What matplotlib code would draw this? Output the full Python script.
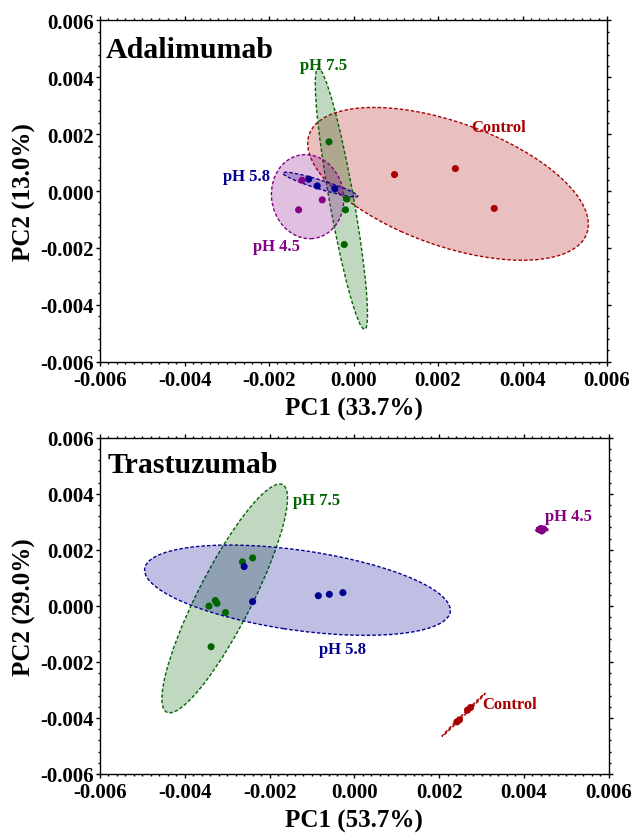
import matplotlib
matplotlib.use('Agg')
import matplotlib.pyplot as plt
from matplotlib.patches import Ellipse
from matplotlib.ticker import MultipleLocator
from matplotlib.colors import to_rgba
import numpy as np

# ---- data (PC scores) ----
tick_vals = [-0.006, -0.004, -0.002, 0.0, 0.002, 0.004, 0.006]
tick_text = ['-0.006', '-0.004', '-0.002', '0.000', '0.002', '0.004', '0.006']

groups = ['Control', 'pH 7.5', 'pH 5.8', 'pH 4.5']
group_colors = ['#a80000', '#006400', '#000090', '#850085']

# Adalimumab
adal_control_pc1 = [0.97e-3, 2.41e-3, 3.33e-3]
adal_control_pc2 = [0.58e-3, 0.79e-3, -0.61e-3]
adal_ph75_pc1 = [-0.58e-3, -0.16e-3, -0.19e-3, -0.22e-3]
adal_ph75_pc2 = [1.73e-3, -0.28e-3, -0.66e-3, -1.88e-3]
adal_ph58_pc1 = [-1.06e-3, -0.86e-3, -0.44e-3]
adal_ph58_pc2 = [0.42e-3, 0.18e-3, 0.08e-3]
adal_ph45_pc1 = [-1.22e-3, -0.74e-3, -1.30e-3]
adal_ph45_pc2 = [0.38e-3, -0.31e-3, -0.66e-3]
# confidence ellipses: full axes lengths and rotation (deg)
adal_ell_width = [7.54e-3, 9.24e-3, 1.95e-3, 1.71e-3]
adal_ell_height = [4.02e-3, 0.58e-3, 0.30e-3, 2.96e-3]
adal_ell_angle = [-34.0, 96.8, -25.1, 3.0]

# Trastuzumab
tras_control_pc1 = [2.42e-3, 2.48e-3, 2.67e-3, 2.74e-3]
tras_control_pc2 = [-4.14e-3, -4.07e-3, -3.72e-3, -3.63e-3]
tras_ph75_pc1 = [-2.64e-3, -2.40e-3, -3.28e-3, -3.24e-3, -3.43e-3, -3.04e-3, -3.38e-3]
tras_ph75_pc2 = [1.57e-3, 1.71e-3, 0.19e-3, 0.09e-3, -0.01e-3, -0.24e-3, -1.46e-3]
tras_ph58_pc1 = [-2.60e-3, -2.40e-3, -0.85e-3, -0.59e-3, -0.27e-3]
tras_ph58_pc2 = [1.40e-3, 0.15e-3, 0.36e-3, 0.41e-3, 0.47e-3]
tras_ph45_pc1 = [4.36e-3, 4.40e-3, 4.44e-3, 4.47e-3, 4.42e-3]
tras_ph45_pc2 = [2.72e-3, 2.76e-3, 2.70e-3, 2.74e-3, 2.67e-3]
tras_ell_width = [1.85e-3, 8.58e-3, 7.38e-3, 0.30e-3]
tras_ell_height = [0.05e-3, 1.36e-3, 2.82e-3, 0.18e-3]
tras_ell_angle = [56.5, 71.9, -13.2, 0.0]

plt.rcParams['font.family'] = ['Liberation Serif', 'DejaVu Serif']
plt.rcParams['font.weight'] = 'bold'
plt.rcParams['axes.unicode_minus'] = False


def draw_group(ax, xs, ys, w, h, ang, color):
    cx, cy = np.mean(xs), np.mean(ys)
    ell = Ellipse((cx, cy), w, h, angle=ang, facecolor=to_rgba(color, 0.25),
                  edgecolor=color, linewidth=1.0, linestyle=(0, (2.5, 1.5)), zorder=2)
    ax.add_patch(ell)
    ax.scatter(xs, ys, s=26, color=color, edgecolors='none', zorder=4)


def style_axes(ax, xlabel, ylabel):
    ax.set_xlim(-0.006, 0.006)
    ax.set_ylim(-0.006, 0.006)
    ax.set_xticks(tick_vals)
    ax.set_xticklabels(tick_text)
    ax.set_yticks(tick_vals)
    ax.set_yticklabels(tick_text)
    ax.xaxis.set_minor_locator(MultipleLocator(0.0002))
    ax.yaxis.set_minor_locator(MultipleLocator(0.0004))
    ax.tick_params(which='both', direction='out', top=True, right=True, width=1.0)
    ax.tick_params(which='major', length=3.0, labelsize=15)
    ax.tick_params(axis='x', which='major', pad=3)
    ax.tick_params(axis='y', which='major', pad=1.5)
    ax.tick_params(which='minor', length=1.7)
    for sp in ax.spines.values():
        sp.set_linewidth(1.0)
    ax.set_xlabel(xlabel, fontsize=18, fontweight='bold', labelpad=5)
    ax.set_ylabel(ylabel, fontsize=18, fontweight='bold', labelpad=3)


fig = plt.figure(figsize=(6.33, 8.37), dpi=100)
ax1 = fig.add_axes([0.158, 0.5667, 0.801, 0.4077])
ax2 = fig.add_axes([0.158, 0.0741, 0.8036, 0.4018])

adal_x = [adal_control_pc1, adal_ph75_pc1, adal_ph58_pc1, adal_ph45_pc1]
adal_y = [adal_control_pc2, adal_ph75_pc2, adal_ph58_pc2, adal_ph45_pc2]
for i in range(len(groups)):
    draw_group(ax1, adal_x[i], adal_y[i], adal_ell_width[i], adal_ell_height[i],
               adal_ell_angle[i], group_colors[i])

tras_x = [tras_control_pc1, tras_ph75_pc1, tras_ph58_pc1, tras_ph45_pc1]
tras_y = [tras_control_pc2, tras_ph75_pc2, tras_ph58_pc2, tras_ph45_pc2]
for i in range(len(groups)):
    draw_group(ax2, tras_x[i], tras_y[i], tras_ell_width[i], tras_ell_height[i],
               tras_ell_angle[i], group_colors[i])

# group labels
adal_label_pos = [(3.43e-3, 2.26e-3), (-0.72e-3, 4.45e-3), (-2.54e-3, 0.53e-3), (-1.82e-3, -1.93e-3)]
tras_label_pos = [(3.66e-3, -3.50e-3), (-0.89e-3, 3.79e-3), (-0.28e-3, -1.55e-3), (5.06e-3, 3.22e-3)]
for i in range(len(groups)):
    ax1.text(adal_label_pos[i][0], adal_label_pos[i][1], groups[i], color=group_colors[i],
             fontsize=12, fontweight='bold', ha='center', va='center', zorder=5)
    ax2.text(tras_label_pos[i][0], tras_label_pos[i][1], groups[i], color=group_colors[i],
             fontsize=12, fontweight='bold', ha='center', va='center', zorder=5)

ax1.text(0.012, 0.915, 'Adalimumab', transform=ax1.transAxes, fontsize=21.5,
         fontweight='bold', ha='left', va='center')
ax2.text(0.015, 0.919, 'Trastuzumab', transform=ax2.transAxes, fontsize=21.5,
         fontweight='bold', ha='left', va='center')

style_axes(ax1, 'PC1 (33.7%)', 'PC2 (13.0%)')
style_axes(ax2, 'PC1 (53.7%)', 'PC2 (29.0%)')

fig.savefig('out.png', dpi=100)
